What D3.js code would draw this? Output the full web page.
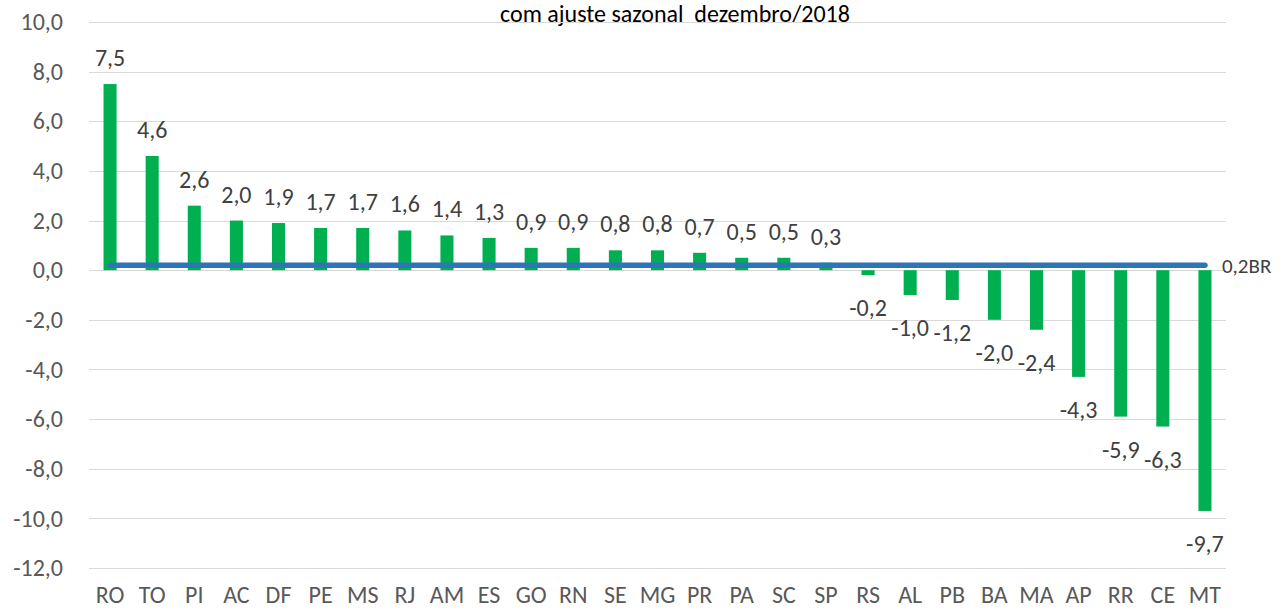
<!DOCTYPE html>
<html>
<head>
<meta charset="utf-8">
<script src="https://cdn.jsdelivr.net/npm/d3@7"></script>
<style>
  body { margin: 0; background: #fff; }
  svg { display: block; font-family: Carlito, Calibri, Lato, "Open Sans", sans-serif; }
</style>
</head>
<body>
<svg id="chart" width="1282" height="612"></svg>
<script>
// chart data
const states = ["RO","TO","PI","AC","DF","PE","MS","RJ","AM","ES","GO","RN","SE","MG","PR","PA","SC","SP","RS","AL","PB","BA","MA","AP","RR","CE","MT"];
const values = [7.5,4.6,2.6,2.0,1.9,1.7,1.7,1.6,1.4,1.3,0.9,0.9,0.8,0.8,0.7,0.5,0.5,0.3,-0.2,-1.0,-1.2,-2.0,-2.4,-4.3,-5.9,-6.3,-9.7];
const brValue = 0.2;
const brLabel = "BR";
const yTicks = [-12,-10,-8,-6,-4,-2,0,2,4,6,8,10];
const titleText = "com ajuste sazonal  dezembro/2018";

const svg = d3.select("#chart");
const margin = {top: 22, right: 56, bottom: 44, left: 89};
const width = 1282, height = 612;
const fontFam = "Carlito, Calibri, Lato, 'Open Sans', sans-serif";

const x = d3.scaleBand()
  .domain(states)
  .range([margin.left, width - margin.right])
  .paddingInner(0.69)
  .paddingOuter(0.345);

const y = d3.scaleLinear()
  .domain([-12, 10])
  .range([height - margin.bottom, margin.top]);

const fmt = v => d3.format(".1f")(v).replace(".", ",").replace("−", "-");

// title (the line above it is cut off in the source)
svg.append("text")
  .attr("x", 675)
  .attr("y", 22)
  .attr("text-anchor", "middle")
  .attr("font-size", 24)
  .attr("fill", "#000")
  .style("white-space", "pre")
  .text(titleText);

// gridlines
svg.append("g")
  .selectAll("line")
  .data(yTicks)
  .join("line")
  .attr("x1", margin.left)
  .attr("x2", width - margin.right)
  .attr("y1", d => Math.round(y(d)) + 0.5)
  .attr("y2", d => Math.round(y(d)) + 0.5)
  .attr("stroke", "#d9d9d9")
  .attr("stroke-width", 1);

// y axis labels
const yAxis = d3.axisLeft(y).tickValues(yTicks).tickFormat(fmt).tickSize(0).tickPadding(0);
svg.append("g")
  .attr("transform", "translate(63,0)")
  .call(yAxis)
  .call(g => g.select(".domain").remove())
  .call(g => g.selectAll("text")
    .attr("font-size", 24)
    .attr("fill", "#595959")
    .attr("font-family", fontFam));

// x axis labels
const xAxis = d3.axisBottom(x).tickSize(0).tickPadding(0);
svg.append("g")
  .attr("transform", "translate(0,586)")
  .call(xAxis)
  .call(g => g.select(".domain").remove())
  .call(g => g.selectAll("text")
    .attr("font-size", 24)
    .attr("fill", "#595959")
    .attr("font-family", fontFam));

// bars
svg.append("g")
  .selectAll("rect")
  .data(values)
  .join("rect")
  .attr("x", (d, i) => x(states[i]))
  .attr("width", x.bandwidth())
  .attr("y", d => y(Math.max(0, d)))
  .attr("height", d => Math.abs(y(d) - y(0)))
  .attr("fill", "#00b050");

// value labels
svg.append("g")
  .selectAll("text")
  .data(values)
  .join("text")
  .attr("x", (d, i) => x(states[i]) + x.bandwidth() / 2)
  .attr("y", d => d >= 0 ? y(d) - 18 : y(d) + 41)
  .attr("text-anchor", "middle")
  .attr("font-size", 24)
  .attr("fill", "#404040")
  .text(d => fmt(d));

// BR line
const lineData = states.map(s => ({s, v: brValue}));
const line = d3.line()
  .x(d => x(d.s) + x.bandwidth() / 2)
  .y(d => y(d.v));
svg.append("path")
  .datum(lineData)
  .attr("d", line)
  .attr("fill", "none")
  .attr("stroke", "#2e75b6")
  .attr("stroke-width", 5.5)
  .attr("stroke-linecap", "round");

svg.append("text")
  .attr("x", x(states[states.length - 1]) + x.bandwidth() / 2 + 17)
  .attr("y", y(brValue) + 8)
  .attr("font-size", 21)
  .attr("fill", "#404040")
  .text(fmt(brValue) + brLabel);
</script>
</body>
</html>
